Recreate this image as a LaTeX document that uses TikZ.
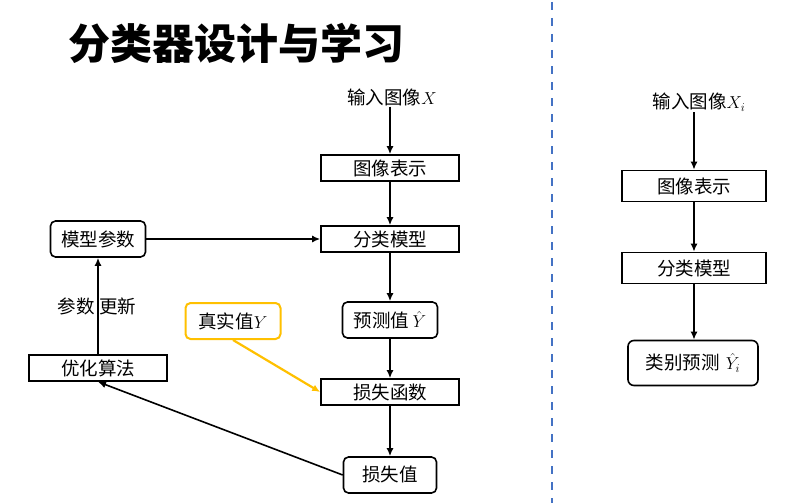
\documentclass[tikz,border=0pt]{standalone}
\usepackage{fontspec}
\newfontfamily\cjk{Noto Sans CJK SC}
\usetikzlibrary{positioning,arrows.meta}
\definecolor{sepblue}{RGB}{68,114,196}
\definecolor{truthyellow}{RGB}{255,192,0}

\begin{document}
\begin{tikzpicture}[x=1pt,y=-1pt,
    box/.style={draw,line width=1.6pt,minimum width=138pt,minimum height=26pt,inner sep=0pt,font=\cjk\fontsize{18.5}{20}\selectfont},
    rbox/.style={box,rounded corners=5pt,minimum width=95pt,minimum height=36pt},
    bigbox/.style={box,minimum width=144pt,minimum height=31pt},
    txt/.style={inner sep=1pt,font=\cjk\fontsize{18.5}{20}\selectfont},
    arr/.style={-{Latex[length=8pt,width=7pt]},line width=1.6pt}]
    \useasboundingbox (0,0) rectangle (797,503);
       \node[font=\cjk\bfseries\fontsize{42}{44}\selectfont] (title) at (236,43) {分类器设计与学习};
       \draw[sepblue,line width=2pt,dash pattern=on 8pt off 8pt] (552,2) -- (552,503);
       % left: training
       \node[txt] (in) at (392,97) {输入图像$X$};
       \node[box] (rep) at (390,168) {图像表示};
       \node[box] (cls) at (390,239) {分类模型};
       \node[rbox] (pred) at (390,320) {预测值\,$\hat{Y}$};
       \node[box] (lossf) at (390,392) {损失函数};
       \node[rbox,minimum width=93pt] (lval) at (390,475) {损失值};
       \node[rbox] (params) at (98,239) {模型参数};
       \node[box] (opt) at (98,368) {优化算法};
       \node[txt] (upd) at (97,306) {参数 更新};
       \node[rbox,draw=truthyellow,line width=2pt] (truth) at (233,321) {真实值$Y$};
       \foreach \a/\b in {rep/cls,cls/pred,pred/lossf,lossf/lval}{\draw[arr] (\a) -- (\b);}
       \draw[arr] (in.south -| rep) -- (rep);
       \draw[arr] (params) -- (cls);
       \draw[arr] (opt) -- (params);
       \draw[arr] (lval.west) -- (opt.south);
       \draw[arr,truthyellow,line width=2.2pt] (truth.south) -- (lossf.west);
       % right: prediction
       \node[txt] (in2) at (699,102) {输入图像$X_i$};
       \node[bigbox] (rep2) at (694,186) {图像表示};
       \node[bigbox] (cls2) at (694,268) {分类模型};
       \node[bigbox,rounded corners=6pt,minimum width=130pt,minimum height=45pt] (pred2) at (693,363) {类别预测\,\,$\hat{Y}_i$};
       \draw[arr] (in2.south -| rep2) -- (rep2);
       \draw[arr] (rep2) -- (cls2);
       \draw[arr] (cls2) -- (cls2 |- pred2.north);
    \end{tikzpicture}
\end{document}
